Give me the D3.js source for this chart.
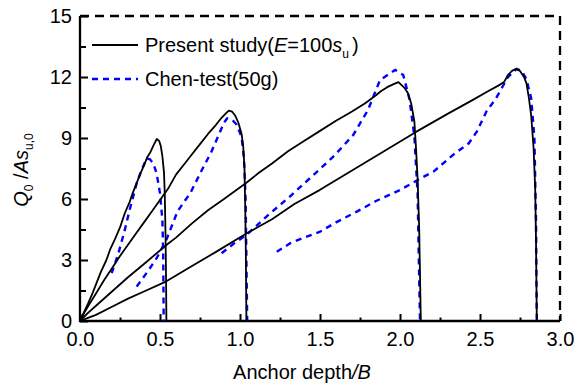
<!DOCTYPE html>
<html>
<head>
<meta charset="utf-8">
<script src="https://cdn.jsdelivr.net/npm/d3@7"></script>
<style>
  body { margin: 0; background: #fff; }
  svg { display: block; font-family: Arial, "Liberation Sans", sans-serif; }
  .tick text { font-size: 20px; fill: #000; }
  .tick line { stroke: #000; stroke-width: 2; }
</style>
</head>
<body>
<script>
// axis ticks
const xMajor = [0, 0.5, 1.0, 1.5, 2.0, 2.5, 3.0];
const xMinor = [0.25, 0.75, 1.25, 1.75, 2.25, 2.75];
const yMajor = [0, 3, 6, 9, 12, 15];
const yMinor = [1.5, 4.5, 7.5, 10.5, 13.5];

// Present study (E=100su), one run per embedment depth  [depth/B, Q0/Asu0]
const presentA = [[0,0],[0.02,0.35],[0.05,0.85],[0.08,1.4],[0.1,1.8],[0.13,2.4],[0.165,3.0],[0.19,3.55],[0.22,4.05],[0.25,4.6],[0.28,5.3],[0.31,5.85],[0.33,6.3],[0.36,6.9],[0.38,7.3],[0.4,7.65],[0.42,8.05],[0.44,8.3],[0.46,8.65],[0.48,8.95],[0.495,8.85],[0.505,8.6],[0.515,8.1],[0.525,7.3],[0.53,6.2],[0.535,4.0],[0.538,2.0],[0.54,0]];
const presentB = [[0,0],[0.03,0.45],[0.06,0.85],[0.1,1.35],[0.15,2.0],[0.2,2.6],[0.25,3.2],[0.3,3.75],[0.35,4.3],[0.4,4.85],[0.45,5.4],[0.5,5.95],[0.55,6.5],[0.6,7.2],[0.65,7.7],[0.7,8.2],[0.75,8.7],[0.8,9.2],[0.85,9.65],[0.88,9.95],[0.91,10.2],[0.93,10.35],[0.95,10.3],[0.97,10.1],[0.99,9.75],[1.01,9.2],[1.02,8.6],[1.028,7.5],[1.033,5.5],[1.037,3.0],[1.04,0]];
const presentC = [[0,0],[0.05,0.4],[0.1,0.75],[0.2,1.45],[0.3,2.15],[0.4,2.8],[0.54,3.74],[0.6,4.1],[0.7,4.8],[0.8,5.45],[0.9,6.0],[1.04,6.8],[1.12,7.3],[1.2,7.75],[1.3,8.35],[1.4,8.85],[1.5,9.35],[1.6,9.85],[1.7,10.3],[1.78,10.7],[1.85,11.1],[1.88,11.3],[1.92,11.5],[1.96,11.65],[1.99,11.75],[2.01,11.6],[2.03,11.45],[2.05,11.2],[2.07,10.7],[2.09,9.8],[2.1,8.5],[2.11,7.0],[2.12,4.5],[2.13,0]];
const presentD = [[0,0],[0.05,0.15],[0.1,0.3],[0.2,0.7],[0.3,1.1],[0.4,1.45],[0.54,1.95],[0.7,2.7],[0.85,3.4],[1.04,4.3],[1.2,5.0],[1.34,5.75],[1.5,6.45],[1.7,7.4],[1.9,8.35],[2.1,9.3],[2.3,10.2],[2.45,10.85],[2.55,11.3],[2.62,11.6],[2.65,11.75],[2.675,12.1],[2.7,12.3],[2.725,12.4],[2.75,12.3],[2.775,12.0],[2.79,11.7],[2.805,11.0],[2.82,10.1],[2.835,8.5],[2.845,6.5],[2.85,4.0],[2.855,0]];

// Chen-test (50g)
const testA = [[0.198,2.35],[0.24,3.33],[0.28,4.48],[0.31,5.46],[0.354,6.77],[0.385,7.43],[0.417,8.0],[0.4375,7.95],[0.458,7.75],[0.479,7.26],[0.5,6.28],[0.515,4.97],[0.52,3.3],[0.523,0]];
const testB = [[0.354,1.69],[0.42,2.4],[0.48,3.1],[0.54,4.0],[0.61,5.4],[0.69,6.3],[0.76,7.4],[0.82,8.3],[0.875,9.3],[0.9,9.75],[0.92,9.97],[0.95,9.9],[0.98,9.65],[1.01,9.05],[1.025,8.0],[1.035,6.0],[1.04,3.0],[1.045,0]];
const testC = [[0.885,3.33],[0.96,3.8],[1.04,4.23],[1.16,5.1],[1.31,6.11],[1.448,7.1],[1.583,8.08],[1.708,9.15],[1.8,10.38],[1.875,11.85],[1.97,12.35],[2.02,12.1],[2.04,11.5],[2.06,10.87],[2.09,9.06],[2.11,6.28],[2.125,0]];
const testD = [[1.23,3.4],[1.3125,3.82],[1.4,4.1],[1.5,4.39],[1.6,4.85],[1.73,5.38],[1.85,5.9],[2.0,6.44],[2.125,7.0],[2.21,7.35],[2.33,8.16],[2.43,8.74],[2.48,9.31],[2.54,10.3],[2.6,10.95],[2.675,12.0],[2.73,12.4],[2.76,12.3],[2.79,11.9],[2.82,10.95],[2.84,9.0],[2.85,5.0],[2.855,0]];

const width = 578, height = 387;
const margin = {top: 16, right: 18, bottom: 66, left: 80};

const svg = d3.select("body").append("svg")
    .attr("width", width)
    .attr("height", height);

const x = d3.scaleLinear().domain([0, 3]).range([margin.left, width - margin.right]);
const y = d3.scaleLinear().domain([0, 15]).range([height - margin.bottom, margin.top]);

// minor ticks
svg.append("g")
    .attr("transform", `translate(0,${y(0)})`)
    .call(d3.axisBottom(x).tickValues(xMinor).tickSize(-3.5).tickFormat(""))
    .call(g => g.select(".domain").remove());
svg.append("g")
    .attr("transform", `translate(${x(0)},0)`)
    .call(d3.axisLeft(y).tickValues(yMinor).tickSize(-6).tickFormat(""))
    .call(g => g.select(".domain").remove());

// major ticks + labels
svg.append("g")
    .attr("transform", `translate(0,${y(0)})`)
    .call(d3.axisBottom(x).tickValues(xMajor).tickSize(-7).tickPadding(11).tickFormat(d3.format(".1f")))
    .call(g => g.select(".domain").remove());
svg.append("g")
    .attr("transform", `translate(${x(0)},0)`)
    .call(d3.axisLeft(y).tickValues(yMajor).tickSize(-8).tickPadding(8))
    .call(g => g.select(".domain").remove());

// frame: solid left/bottom, dashed top/right
const frame = svg.append("g").attr("fill", "none").attr("stroke", "#000").attr("stroke-width", 2.3);
frame.append("line").attr("x1", x(0)).attr("x2", x(0)).attr("y1", y(15)).attr("y2", y(0) + 1);
frame.append("line").attr("x1", x(0) - 1).attr("x2", x(3)).attr("y1", y(0)).attr("y2", y(0));
frame.append("line").attr("x1", x(0)).attr("x2", x(3)).attr("y1", y(15)).attr("y2", y(15))
    .attr("stroke-dasharray", "9,6");
frame.append("line").attr("x1", x(3)).attr("x2", x(3)).attr("y1", y(15)).attr("y2", y(0))
    .attr("stroke-dasharray", "9,6");

const line = d3.line().x(d => x(d[0])).y(d => y(d[1]));

const plot = svg.append("g").attr("fill", "none");

[testA, testB, testC, testD].forEach(s => {
  plot.append("path").attr("d", line(s))
      .attr("stroke", "#0000ff").attr("stroke-width", 2.4)
      .attr("stroke-dasharray", "6,5");
});
[presentA, presentB, presentC, presentD].forEach(s => {
  plot.append("path").attr("d", line(s))
      .attr("stroke", "#000").attr("stroke-width", 1.8)
      .attr("stroke-linejoin", "round");
});

// legend
const leg = svg.append("g");
leg.append("line").attr("x1", 92).attr("x2", 138).attr("y1", 45).attr("y2", 45)
    .attr("stroke", "#000").attr("stroke-width", 2);
leg.append("line").attr("x1", 92).attr("x2", 138).attr("y1", 79).attr("y2", 79)
    .attr("stroke", "#0000ff").attr("stroke-width", 2.4).attr("stroke-dasharray", "6,5");

const t1 = leg.append("text").attr("x", 145).attr("y", 52).attr("font-size", 20);
t1.append("tspan").text("Present study(");
t1.append("tspan").attr("font-style", "italic").text("E");
t1.append("tspan").text("=100");
t1.append("tspan").attr("font-style", "italic").text("s");
t1.append("tspan").attr("font-size", 12).attr("dy", 6).text("u");
t1.append("tspan").attr("dy", -6).attr("dx", 3).text(")");

leg.append("text").attr("x", 145).attr("y", 86).attr("font-size", 20).text("Chen-test(50g)");

// axis titles
const xt = svg.append("text").attr("x", 302).attr("y", 379)
    .attr("text-anchor", "middle").attr("font-size", 20);
xt.append("tspan").text("Anchor depth");
xt.append("tspan").attr("font-style", "italic").text("/B");

const yt = svg.append("text")
    .attr("transform", "translate(28,170) rotate(-90)")
    .attr("text-anchor", "middle").attr("font-size", 20);
yt.append("tspan").attr("font-style", "italic").text("Q");
yt.append("tspan").attr("font-size", 12).attr("dy", 5).text("0");
yt.append("tspan").attr("dy", -5).text(" /");
yt.append("tspan").attr("font-style", "italic").text("As");
yt.append("tspan").attr("font-size", 12).attr("dy", 5).text("u,0");
</script>
</body>
</html>
